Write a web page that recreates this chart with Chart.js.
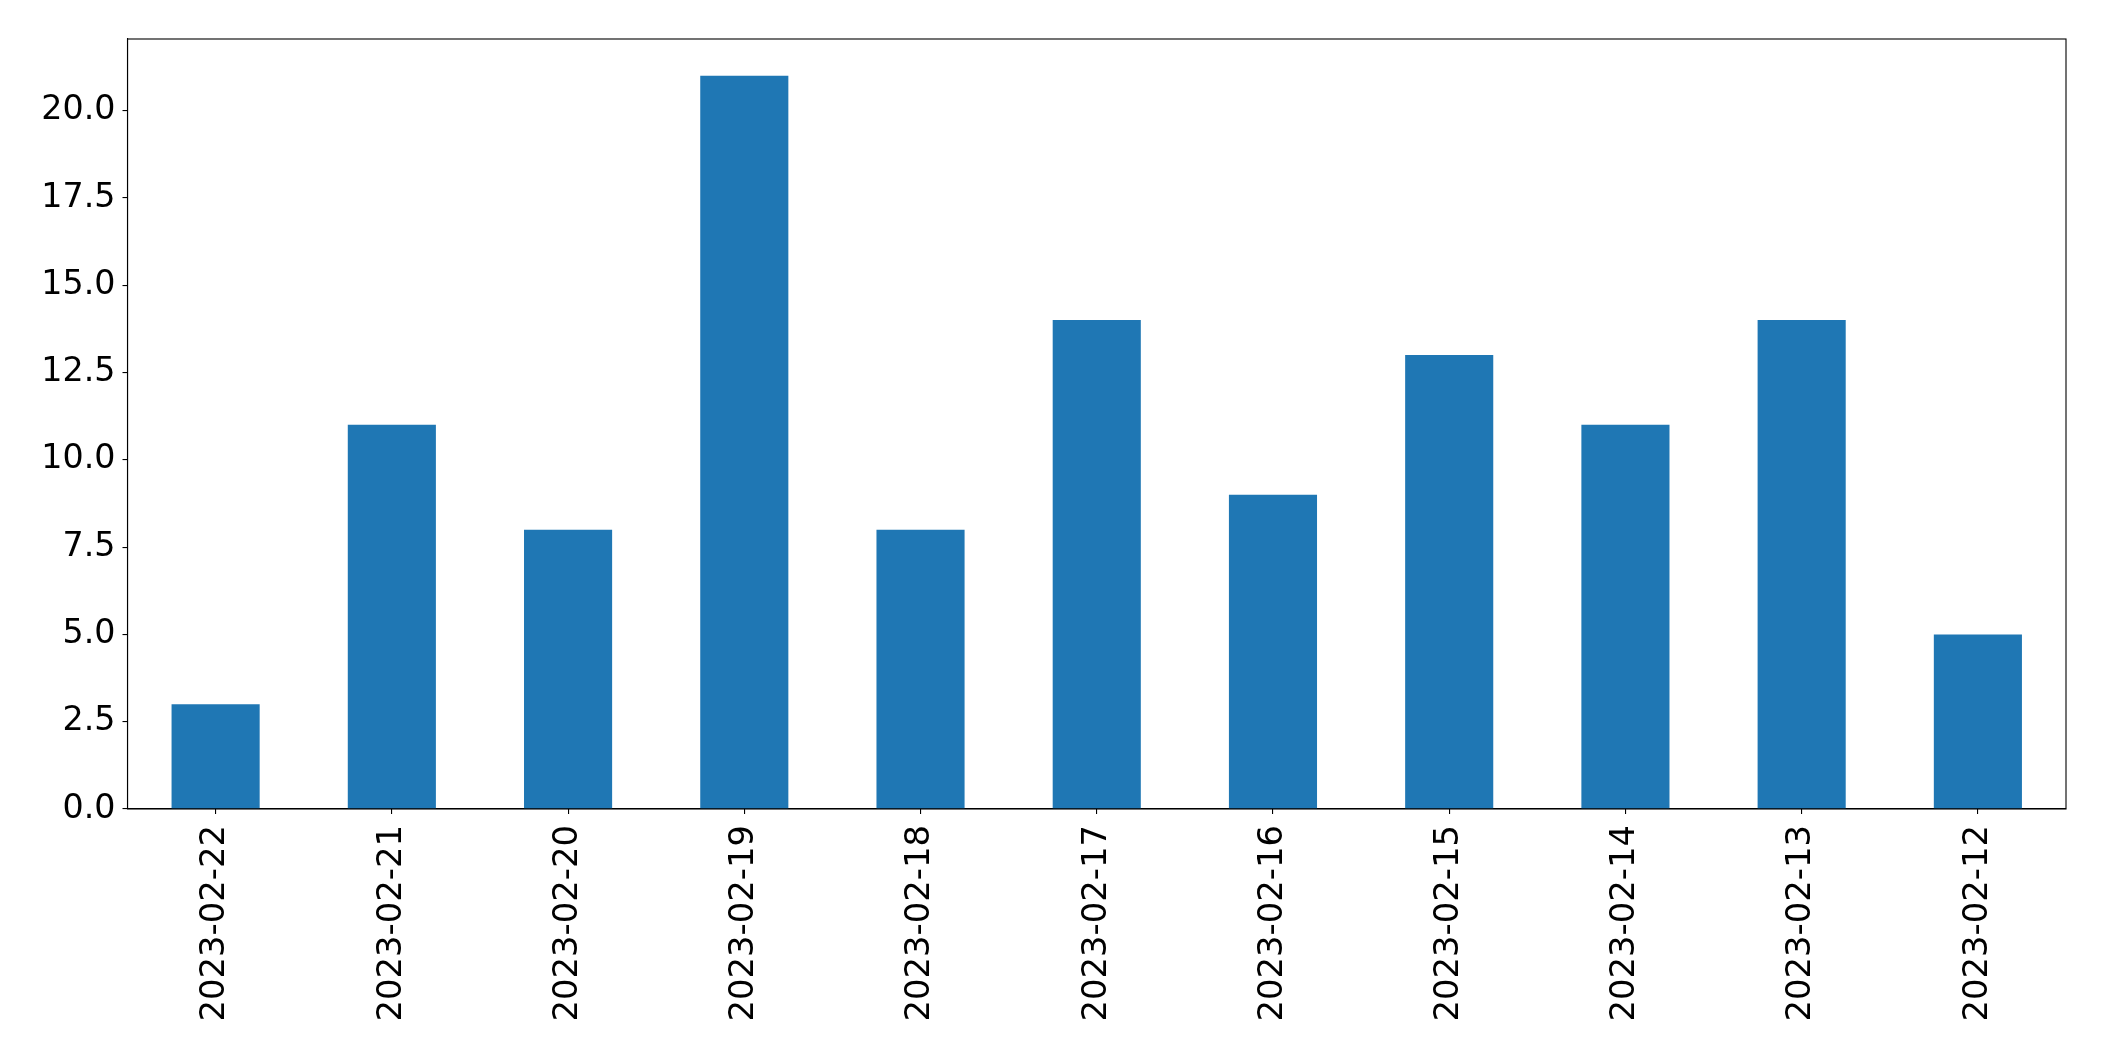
<!DOCTYPE html>
<html>
<head>
<meta charset="utf-8">
<script src="https://cdn.jsdelivr.net/npm/chart.js@4.4.0/dist/chart.umd.min.js"></script>
<style>
 html,body{margin:0;padding:0;background:#fff;}
 #chart{display:block;}
</style>
</head>
<body>
<canvas id="chart" width="2104" height="1061"></canvas>
<script>
const categories=['2023-02-22','2023-02-21','2023-02-20','2023-02-19','2023-02-18','2023-02-17','2023-02-16','2023-02-15','2023-02-14','2023-02-13','2023-02-12'];
const counts=[3,11,8,21,8,14,9,13,11,14,5];
const yMax=22.05;
const yStep=2.5;

//marco negro alrededor del area
const frame={
 id:'frame',
 afterDraw(chart){
  const a=chart.chartArea, c=chart.ctx;
  c.save();
  c.strokeStyle='#000';
  c.lineWidth=1.1;
  c.strokeRect(a.left,a.top,a.right-a.left,a.bottom-a.top);
  c.restore();
 }
};

new Chart(document.getElementById('chart'),{
 type:'bar',
 data:{
  labels:categories,
  datasets:[{
   data:counts,
   backgroundColor:'#1f77b4',
   borderWidth:0,
   barPercentage:0.5,
   categoryPercentage:1
  }]
 },
 options:{
  responsive:false,
  animation:false,
  layout:{padding:{top:39,right:38,left:0,bottom:0}},
  plugins:{legend:{display:false},tooltip:{enabled:false}},
  scales:{
   x:{
    offset:true,
    grid:{display:true,offset:false,drawOnChartArea:false,drawTicks:true,tickLength:5,color:'#000',lineWidth:1.1},
    border:{display:true,color:'#000',width:1.1},
    ticks:{color:'#000',font:{family:'"DejaVu Sans"',size:33.8},minRotation:90,maxRotation:90,padding:11,autoSkip:false},
    afterFit(s){s.height=252;}
   },
   y:{
    min:0,
    max:yMax,
    grid:{display:true,drawOnChartArea:false,drawTicks:true,tickLength:5,color:'#000',lineWidth:1.1},
    border:{display:true,color:'#000',width:1.1},
    ticks:{color:'#000',font:{family:'"DejaVu Sans"',size:33.3},stepSize:yStep,includeBounds:false,padding:7,
     callback:v=>Number(v).toFixed(1)},
    afterFit(s){s.width=127.5;}
   }
  }
 },
 plugins:[frame]
});
</script>
</body>
</html>
